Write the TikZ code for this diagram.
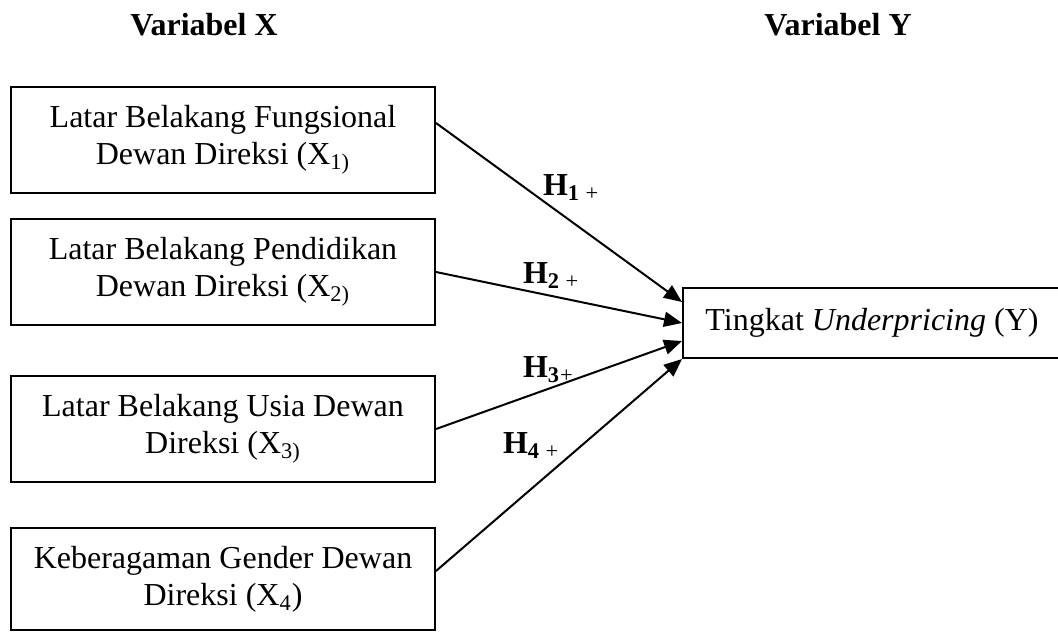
\documentclass[tikz,border=0pt]{standalone}
\usepackage{fontspec}
\setmainfont{Liberation Serif}
\usetikzlibrary{arrows.meta}

\begin{document}
\begin{tikzpicture}[x=0.5pt, y=-0.5pt, line width=1pt,
    >={Triangle[length=9pt,width=7.5pt]},
    every node/.style={font=\fontsize{16}{18.5}\selectfont},
    varbox/.style={draw, align=center, minimum width=212pt, minimum height=53pt, inner sep=0pt},
    hlabel/.style={anchor=base west, inner sep=0pt}]
    \useasboundingbox (0,0) rectangle (1058,632);
    % judul
    \node[anchor=base] (jx) at (204,35) {\textbf{Variabel X}};
    \node[anchor=base] (jy) at (838,35) {\textbf{Variabel Y}};
    % variabel X
    \node[varbox] (x1) at (223,140) {Latar Belakang Fungsional\\Dewan Direksi (X\textsubscript{1)}};
    \node[varbox] (x2) at (223,272) {Latar Belakang Pendidikan\\Dewan Direksi (X\textsubscript{2)}};
    \node[varbox] (x3) at (223,429) {Latar Belakang Usia Dewan\\Direksi (X\textsubscript{3)}};
    \node[varbox, minimum height=51pt] (x4) at (223,579) {Keberagaman Gender Dewan\\Direksi (X\textsubscript{4})};
    % variabel Y
    \node[draw, minimum width=189pt, minimum height=35pt, inner sep=0pt] (y) at (872,323) {Tingkat \textit{Underpricing} (Y)};
    % hipotesis
    \draw[->] ([yshift=8.5pt]x1.east) -- ([yshift=10.5pt]y.west);
    \draw[->] (x2.east) -- (y.west);
    \draw[->] (x3.east) -- ([yshift=-9pt]y.west);
    \draw[->] ([yshift=4pt]x4.east) -- (y.south west);
    \node[hlabel] (h1) at (542,195) {\textbf{H\textsubscript{1}}\textsubscript{ +}};
    \node[hlabel] (h2) at (522,283) {\textbf{H\textsubscript{2}}\textsubscript{ +}};
    \node[hlabel] (h3) at (522,377) {\textbf{H\textsubscript{3}}\textsubscript{+}};
    \node[hlabel] (h4) at (502,453) {\textbf{H\textsubscript{4}}\textsubscript{ +}};
\end{tikzpicture}
\end{document}
